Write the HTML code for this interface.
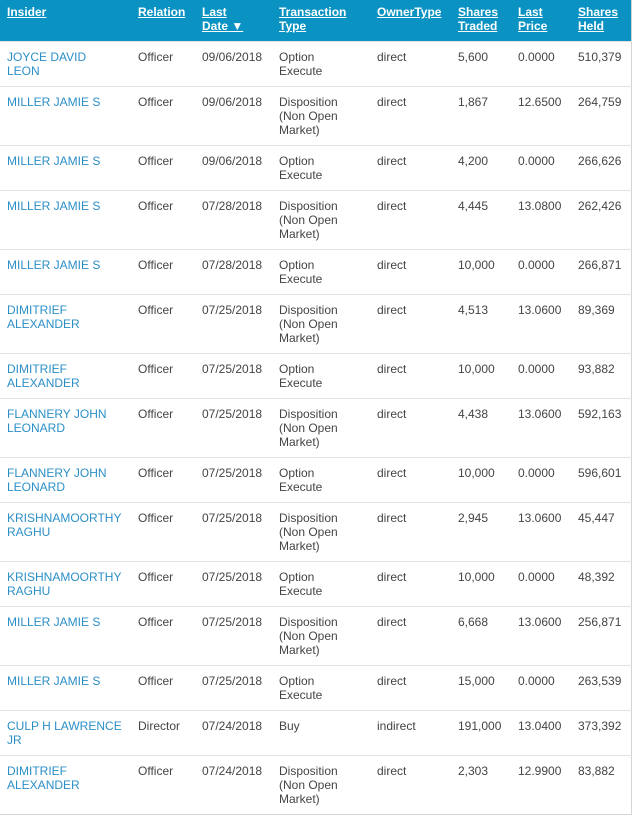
<!DOCTYPE html>
<html><head><style>
body{margin:0;background:#fff;font-family:"Liberation Sans",Arial,sans-serif;font-size:12px;color:#444;}
table{border-collapse:collapse;table-layout:fixed;width:631px;border-right:1px solid #d4d4d4;border-bottom:1px solid #d4d4d4;}
th{background:#0a92c2;color:#fff;font-weight:bold;text-align:left;vertical-align:top;padding:5px 2px 8px 7px;line-height:14px;height:28px;text-decoration:underline;}
td{vertical-align:top;padding:8px 2px 8px 7px;line-height:14px;border-top:1px solid #e2e2e2;}
td.n{color:#2b8fc7;}
</style></head><body>
<table>
<colgroup><col style="width:131px"><col style="width:64px"><col style="width:77px"><col style="width:98px"><col style="width:81px"><col style="width:60px"><col style="width:60px"><col style="width:60px"></colgroup>
<tr><th>Insider</th><th>Relation</th><th>Last<br>Date ▼</th><th>Transaction<br>Type</th><th>OwnerType</th><th>Shares<br>Traded</th><th>Last<br>Price</th><th>Shares<br>Held</th></tr>
<tr><td class="n">JOYCE DAVID<br>LEON</td><td>Officer</td><td>09/06/2018</td><td>Option<br>Execute</td><td>direct</td><td>5,600</td><td>0.0000</td><td>510,379</td></tr>
<tr><td class="n">MILLER JAMIE S</td><td>Officer</td><td>09/06/2018</td><td>Disposition<br>(Non Open<br>Market)</td><td>direct</td><td>1,867</td><td>12.6500</td><td>264,759</td></tr>
<tr><td class="n">MILLER JAMIE S</td><td>Officer</td><td>09/06/2018</td><td>Option<br>Execute</td><td>direct</td><td>4,200</td><td>0.0000</td><td>266,626</td></tr>
<tr><td class="n">MILLER JAMIE S</td><td>Officer</td><td>07/28/2018</td><td>Disposition<br>(Non Open<br>Market)</td><td>direct</td><td>4,445</td><td>13.0800</td><td>262,426</td></tr>
<tr><td class="n">MILLER JAMIE S</td><td>Officer</td><td>07/28/2018</td><td>Option<br>Execute</td><td>direct</td><td>10,000</td><td>0.0000</td><td>266,871</td></tr>
<tr><td class="n">DIMITRIEF<br>ALEXANDER</td><td>Officer</td><td>07/25/2018</td><td>Disposition<br>(Non Open<br>Market)</td><td>direct</td><td>4,513</td><td>13.0600</td><td>89,369</td></tr>
<tr><td class="n">DIMITRIEF<br>ALEXANDER</td><td>Officer</td><td>07/25/2018</td><td>Option<br>Execute</td><td>direct</td><td>10,000</td><td>0.0000</td><td>93,882</td></tr>
<tr><td class="n">FLANNERY JOHN<br>LEONARD</td><td>Officer</td><td>07/25/2018</td><td>Disposition<br>(Non Open<br>Market)</td><td>direct</td><td>4,438</td><td>13.0600</td><td>592,163</td></tr>
<tr><td class="n">FLANNERY JOHN<br>LEONARD</td><td>Officer</td><td>07/25/2018</td><td>Option<br>Execute</td><td>direct</td><td>10,000</td><td>0.0000</td><td>596,601</td></tr>
<tr><td class="n">KRISHNAMOORTHY<br>RAGHU</td><td>Officer</td><td>07/25/2018</td><td>Disposition<br>(Non Open<br>Market)</td><td>direct</td><td>2,945</td><td>13.0600</td><td>45,447</td></tr>
<tr><td class="n">KRISHNAMOORTHY<br>RAGHU</td><td>Officer</td><td>07/25/2018</td><td>Option<br>Execute</td><td>direct</td><td>10,000</td><td>0.0000</td><td>48,392</td></tr>
<tr><td class="n">MILLER JAMIE S</td><td>Officer</td><td>07/25/2018</td><td>Disposition<br>(Non Open<br>Market)</td><td>direct</td><td>6,668</td><td>13.0600</td><td>256,871</td></tr>
<tr><td class="n">MILLER JAMIE S</td><td>Officer</td><td>07/25/2018</td><td>Option<br>Execute</td><td>direct</td><td>15,000</td><td>0.0000</td><td>263,539</td></tr>
<tr><td class="n">CULP H LAWRENCE<br>JR</td><td>Director</td><td>07/24/2018</td><td>Buy</td><td>indirect</td><td>191,000</td><td>13.0400</td><td>373,392</td></tr>
<tr><td class="n">DIMITRIEF<br>ALEXANDER</td><td>Officer</td><td>07/24/2018</td><td>Disposition<br>(Non Open<br>Market)</td><td>direct</td><td>2,303</td><td>12.9900</td><td>83,882</td></tr>
</table>
</body></html>
